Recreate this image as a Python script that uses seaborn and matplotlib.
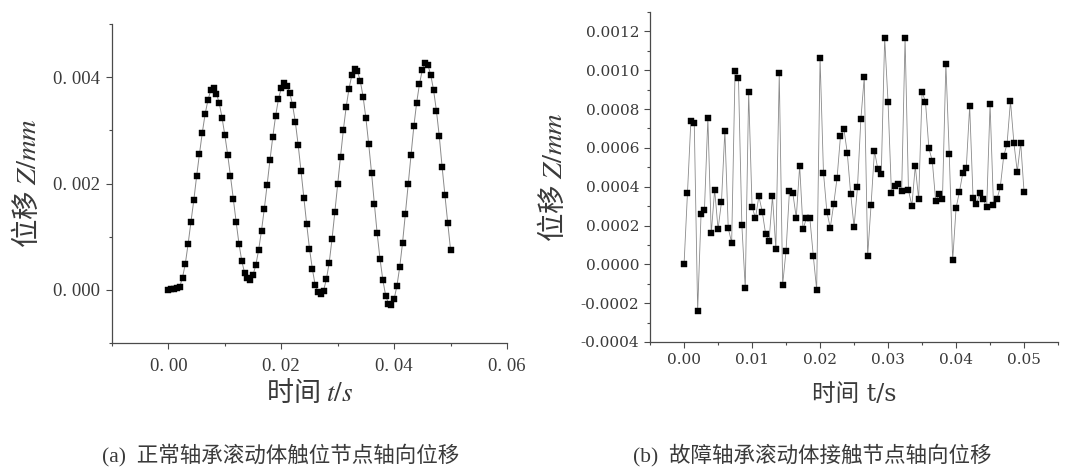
import numpy as np
import pandas as pd
import seaborn as sns
import matplotlib.pyplot as plt
from matplotlib.ticker import MultipleLocator, FuncFormatter

# sampling time, 0 ~ 0.05 s with 0.0005 s step
time_s = np.round(np.arange(101) * 0.0005, 4)

# (a) normal bearing, axial displacement (x 1e-3 mm)
normal_disp = np.array([
    0.000, 0.013, 0.025, 0.044, 0.056, 0.232, 0.495, 0.871, 1.285, 1.687,
    2.138, 2.558, 2.953, 3.304, 3.567, 3.755, 3.793, 3.693, 3.517, 3.241,
    2.909, 2.545, 2.138, 1.712, 1.279, 0.871, 0.545, 0.320, 0.226, 0.188,
    0.282, 0.470, 0.759, 1.116, 1.530, 1.981, 2.445, 2.878, 3.273, 3.586,
    3.799, 3.893, 3.843, 3.712, 3.480, 3.154, 2.721, 2.238, 1.737, 1.241,
    0.777, 0.401, 0.094, -0.038, -0.082, -0.013, 0.201, 0.514, 0.959, 1.467,
    1.987, 2.502, 3.003, 3.436, 3.781, 4.038, 4.157, 4.113, 3.931, 3.636,
    3.229, 2.740, 2.201, 1.618, 1.060, 0.583, 0.188, -0.107, -0.257, -0.282,
    -0.176, 0.075, 0.433, 0.890, 1.436, 1.987, 2.539, 3.078, 3.524, 3.875,
    4.138, 4.270, 4.226, 4.038, 3.755, 3.367, 2.897, 2.320, 1.787, 1.266,
    0.759]) * 1e-3

# (b) faulty bearing, axial displacement (x 1e-4 mm)
fault_disp = np.array([
    0.00, 3.66, 7.37, 7.30, -2.38, 2.59, 2.82, 7.53, 1.59, 3.85,
    1.81, 3.20, 6.89, 1.85, 1.12, 9.98, 9.60, 2.02, -1.23, 8.88,
    2.97, 2.38, 3.51, 2.71, 1.55, 1.21, 3.51, 0.78, 9.84, -1.04,
    0.71, 3.78, 3.66, 2.40, 5.08, 1.80, 2.40, 2.37, 0.45, -1.31,
    10.64, 4.73, 2.71, 1.88, 3.09, 4.44, 6.60, 6.98, 5.75, 3.63,
    1.93, 3.96, 7.48, 9.65, 0.45, 3.06, 5.85, 4.89, 4.66, 11.66,
    8.34, 3.66, 4.04, 4.15, 3.77, 11.68, 3.82, 3.02, 5.06, 3.35,
    8.88, 8.38, 5.98, 5.34, 3.26, 3.64, 3.39, 10.33, 5.66, 0.21,
    2.90, 3.75, 4.72, 4.97, 8.15, 3.40, 3.11, 3.66, 3.35, 2.94,
    8.24, 3.06, 3.35, 3.97, 5.56, 6.22, 8.41, 6.27, 4.77, 6.27,
    3.71]) * 1e-4

captions = ["(a)  正常轴承滚动体触位节点轴向位移",
            "(b)  故障轴承滚动体接触节点轴向位移"]

sns.set_style("ticks")
plt.rcParams['font.family'] = ['Liberation Serif', 'Noto Sans CJK SC', 'DejaVu Sans']
plt.rcParams['mathtext.fontset'] = 'stix'
plt.rcParams['axes.unicode_minus'] = False

fig = plt.figure(figsize=(10.8, 4.73), dpi=100)
ax1 = fig.add_axes([0.1037, 0.2748, 0.3657, 0.6744])
ax2 = fig.add_axes([0.6019, 0.2770, 0.3778, 0.6977])

df_a = pd.DataFrame({"t": time_s, "z": normal_disp})
df_b = pd.DataFrame({"t": time_s, "z": fault_disp})

sns.lineplot(data=df_a, x="t", y="z", ax=ax1, color="#8a8a8a", linewidth=0.7,
             marker="s", markersize=4.6, markerfacecolor="black",
             markeredgecolor="black", markeredgewidth=0.3)
sns.lineplot(data=df_b, x="t", y="z", ax=ax2, color="#8a8a8a", linewidth=0.6,
             marker="s", markersize=4.8, markerfacecolor="black",
             markeredgecolor="black", markeredgewidth=0.3)

spine_col = "#4a4a4a"
txt_col = "#3a3a3a"
for ax in (ax1, ax2):
    for side in ("top", "right"):
        ax.spines[side].set_visible(False)
    for side in ("left", "bottom"):
        ax.spines[side].set_color(spine_col)
        ax.spines[side].set_linewidth(0.9)
    ax.tick_params(which="major", direction="out", length=4.3, width=0.8,
                   color=spine_col, labelcolor=txt_col)
    ax.tick_params(which="minor", direction="out", length=2.4, width=0.8,
                   color=spine_col)

# (a)
ax1.set_xlim(-0.01, 0.06)
ax1.set_ylim(-0.001, 0.005)
ax1.xaxis.set_major_locator(MultipleLocator(0.02))
ax1.xaxis.set_minor_locator(MultipleLocator(0.01))
ax1.yaxis.set_major_locator(MultipleLocator(0.002))
ax1.yaxis.set_minor_locator(MultipleLocator(0.001))
ax1.xaxis.set_major_formatter(FuncFormatter(lambda v, p: f"{v:.2f}".replace(".", ". ")))
ax1.yaxis.set_major_formatter(FuncFormatter(lambda v, p: f"{v:.3f}".replace(".", ". ")))
ax1.tick_params(axis="both", which="major", labelsize=13.5, pad=4)
ax1.tick_params(axis="x", which="major", pad=6.5)
ax1.set_xlabel("时间 $t/s$", fontsize=19.5, color=txt_col, family="Noto Sans CJK SC")
ax1.set_ylabel("位移 $Z/mm$", fontsize=20.5, color=txt_col, family="Noto Sans CJK SC")
ax1.xaxis.set_label_coords(0.5, -0.11)
ax1.yaxis.set_label_coords(-0.175, 0.5)

# (b)
ax2.set_xlim(-0.005, 0.055)
ax2.set_ylim(-0.0004, 0.0013)
ax2.xaxis.set_major_locator(MultipleLocator(0.01))
ax2.xaxis.set_minor_locator(MultipleLocator(0.005))
ax2.yaxis.set_major_locator(MultipleLocator(0.0002))
ax2.yaxis.set_minor_locator(MultipleLocator(0.0001))
ax2.xaxis.set_major_formatter(FuncFormatter(lambda v, p: f"{v:.2f}"))
ax2.yaxis.set_major_formatter(FuncFormatter(lambda v, p: f"{v:.4f}"))
for lab in ax2.get_xticklabels() + ax2.get_yticklabels():
    lab.set_family("DejaVu Serif")
ax2.tick_params(axis="both", which="major", labelsize=11, pad=3.5)
ax2.set_xlabel("时间 t/s", fontsize=17, color=txt_col,
               family=["DejaVu Serif", "Noto Sans CJK SC"])
ax2.set_ylabel("位移 $Z/mm$", fontsize=20.5, color=txt_col,
               family="Noto Sans CJK SC")
ax2.xaxis.set_label_coords(0.5, -0.125)
ax2.yaxis.set_label_coords(-0.2, 0.5)

fig.text(0.094, 0.038, captions[0], fontsize=15.5, color=txt_col, va="center",
         family=["Liberation Serif", "Noto Sans CJK SC"])
fig.text(0.586, 0.038, captions[1], fontsize=15.5, color=txt_col, va="center",
         family=["Liberation Serif", "Noto Sans CJK SC"])

fig.savefig("out.png", dpi=100)
